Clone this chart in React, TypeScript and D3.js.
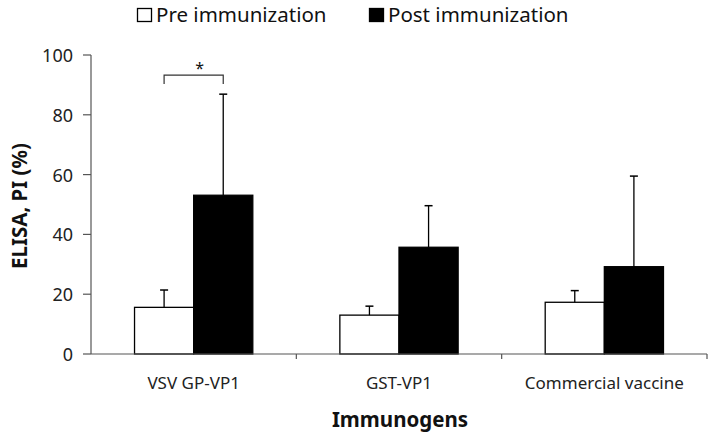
import React from "react";
import * as d3 from "d3";

const categories = ["VSV GP-VP1", "GST-VP1", "Commercial vaccine"];
const series = ["Pre immunization", "Post immunization"];
const preValues = [15.6, 13.0, 17.3];
const preErrors = [5.8, 3.0, 3.9];
const postValues = [53.1, 35.7, 29.2];
const postErrors = [33.8, 13.9, 30.3];
const yTicks = [0, 20, 40, 60, 80, 100];

const W = 714, H = 437;
const left = 91, right = 707, top = 55, bottom = 354;
const FONT = "'Noto Sans', 'Open Sans', sans-serif";

export default function App() {
  const x = d3.scaleBand<string>().domain(categories).range([left, right]).paddingInner(0).paddingOuter(0);
  const y = d3.scaleLinear().domain([0, 100]).range([bottom, top]);
  const barW = x.bandwidth() * 0.288;
  const data = [
    { values: preValues, errors: preErrors, fill: "#fff" },
    { values: postValues, errors: postErrors, fill: "#000" },
  ];
  const axisColor = "#555";
  const c0 = (x(categories[0]) as number) + x.bandwidth() / 2;
  return (
    <svg width={W} height={H} style={{ position: "absolute", left: 0, top: 0, background: "#fff" }} fontFamily={FONT}>
      {data.map((s, si) =>
        categories.map((c, i) => {
          const cx = (x(c) as number) + x.bandwidth() / 2;
          const bx = si === 0 ? cx - barW : cx;
          const yv = y(s.values[i]);
          const ye = y(s.values[i] + s.errors[i]);
          const mx = bx + barW / 2;
          return (
            <g key={si + "-" + i}>
              <rect x={bx} y={yv} width={barW} height={bottom - yv} fill={s.fill} stroke="#000" strokeWidth={1.3} />
              <line x1={mx} x2={mx} y1={yv} y2={ye} stroke="#000" strokeWidth={1.3} />
              <line x1={mx - 4} x2={mx + 4} y1={ye} y2={ye} stroke="#000" strokeWidth={1.5} />
            </g>
          );
        })
      )}
      <line x1={left} x2={left} y1={top} y2={bottom} stroke={axisColor} strokeWidth={1.2} />
      <line x1={left} x2={right} y1={bottom} y2={bottom} stroke={axisColor} strokeWidth={1.2} />
      {yTicks.map((t) => (
        <g key={t}>
          <line x1={left - 8} x2={left} y1={y(t)} y2={y(t)} stroke={axisColor} strokeWidth={1.2} />
          <text x={73} y={y(t) + 7} textAnchor="end" fontSize={18} fill="#222">{t}</text>
        </g>
      ))}
      {categories.map((c, i) => (
        <line key={"t" + i} x1={(x(c) as number) + x.bandwidth()} x2={(x(c) as number) + x.bandwidth()} y1={bottom} y2={bottom + 5} stroke={axisColor} strokeWidth={1.2} />
      ))}
      {categories.map((c) => (
        <text key={c} x={(x(c) as number) + x.bandwidth() / 2} y={389} textAnchor="middle" fontSize={17} fill="#222">{c}</text>
      ))}
      <text x={400} y={427} textAnchor="middle" fontSize={20.5} fontWeight="bold" fill="#111">Immunogens</text>
      <text transform={`translate(27,206) rotate(-90)`} textAnchor="middle" fontSize={20.5} fontWeight="bold" fill="#111">ELISA, PI (%)</text>
      <path d={`M${c0 - barW / 2},${y(90.3)} V${y(93.3)} H${c0 + barW / 2} V${y(90.3)}`} fill="none" stroke="#333" strokeWidth={1.2} />
      <text x={c0 + 6} y={y(93.6)} textAnchor="middle" fontSize={16} fill="#111">*</text>
      <g>
        <rect x={137.5} y={8.5} width={14} height={13} fill="#fff" stroke="#000" strokeWidth={1.3} />
        <text x={156} y={22} fontSize={20.5} fill="#111">{series[0]}</text>
        <rect x={369.5} y={8.5} width={14} height={13} fill="#000" stroke="#000" strokeWidth={1.3} />
        <text x={388} y={22} fontSize={20.5} fill="#111">{series[1]}</text>
      </g>
    </svg>
  );
}
